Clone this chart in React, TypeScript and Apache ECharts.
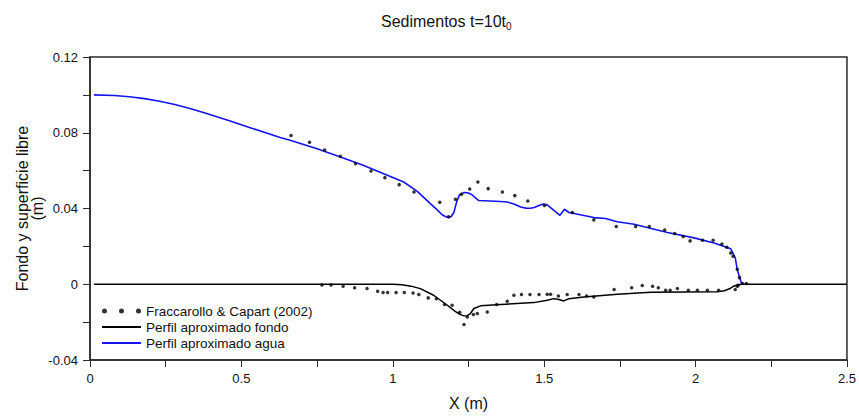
import React, { useEffect, useRef } from "react";
import * as echarts from "echarts";

const aguaX = [0.013, 0.08, 0.13, 0.18, 0.23, 0.28, 0.33, 0.38, 0.463, 0.529, 0.628, 0.661, 0.75, 0.827, 0.9, 0.97, 1.036, 1.08, 1.124, 1.145, 1.163, 1.177, 1.185, 1.193, 1.202, 1.211, 1.22, 1.234, 1.247, 1.26, 1.272, 1.284, 1.356, 1.378, 1.4, 1.422, 1.44, 1.455, 1.467, 1.477, 1.487, 1.497, 1.51, 1.552, 1.567, 1.582, 1.664, 1.703, 1.741, 1.797, 1.907, 1.995, 2.061, 2.116, 2.131, 2.138, 2.152];
const aguaY = [0.1, 0.0997, 0.099, 0.098, 0.0966, 0.0949, 0.0928, 0.0904, 0.0862, 0.0827, 0.0775, 0.076, 0.0715, 0.0672, 0.063, 0.0584, 0.054, 0.0492, 0.0426, 0.0395, 0.0367, 0.0355, 0.0352, 0.0358, 0.038, 0.0435, 0.0472, 0.0484, 0.0483, 0.0474, 0.0458, 0.0442, 0.0437, 0.0434, 0.0424, 0.0408, 0.0402, 0.0401, 0.0405, 0.0412, 0.0419, 0.0424, 0.0419, 0.0364, 0.0396, 0.0379, 0.0352, 0.0347, 0.033, 0.0317, 0.0273, 0.0245, 0.0218, 0.0188, 0.014, 0.0074, 0.0004];

const fondoX = [0.013, 1.0, 1.03, 1.06, 1.091, 1.135, 1.18, 1.205, 1.222, 1.235, 1.246, 1.256, 1.268, 1.29, 1.356, 1.466, 1.51, 1.532, 1.549, 1.565, 1.582, 1.631, 1.742, 1.852, 2.072, 2.095, 2.112, 2.127, 2.15, 2.5];
const fondoY = [0, 0, -0.0003, -0.001, -0.0023, -0.0058, -0.0111, -0.0142, -0.0159, -0.0167, -0.0166, -0.0155, -0.0128, -0.0114, -0.0107, -0.0097, -0.0085, -0.0076, -0.0081, -0.0088, -0.0076, -0.0067, -0.0053, -0.0042, -0.0039, -0.0034, -0.0024, -0.0009, 0, 0];

const expSupX = [0.664, 0.725, 0.775, 0.827, 0.877, 0.928, 0.974, 1.021, 1.07, 1.155, 1.184, 1.207, 1.227, 1.254, 1.281, 1.315, 1.362, 1.403, 1.446, 1.501, 1.593, 1.664, 1.738, 1.802, 1.847, 1.898, 1.931, 1.959, 1.982, 2.023, 2.058, 2.087, 2.103, 2.116, 2.124, 2.138, 2.145, 2.155, 2.168];
const expSupY = [0.0785, 0.075, 0.0709, 0.0676, 0.0637, 0.0598, 0.0563, 0.0526, 0.0487, 0.0433, 0.0356, 0.0449, 0.0475, 0.0503, 0.054, 0.0505, 0.0487, 0.0468, 0.044, 0.0416, 0.0379, 0.034, 0.0305, 0.0305, 0.0305, 0.0287, 0.0268, 0.0252, 0.0229, 0.0232, 0.0232, 0.0213, 0.0195, 0.0165, 0.0148, 0.0079, 0.0035, 0.0004, 0.0004];

const expFonX = [0.766, 0.796, 0.836, 0.874, 0.915, 0.95, 0.968, 0.983, 1.011, 1.038, 1.067, 1.086, 1.117, 1.144, 1.171, 1.196, 1.221, 1.235, 1.246, 1.266, 1.279, 1.312, 1.343, 1.378, 1.4, 1.425, 1.453, 1.483, 1.51, 1.521, 1.547, 1.576, 1.615, 1.64, 1.664, 1.731, 1.789, 1.824, 1.858, 1.877, 1.901, 1.916, 1.94, 1.976, 2.006, 2.039, 2.076, 2.131, 2.138, 2.14];
const expFonY = [-0.0004, -0.0004, -0.0011, -0.0018, -0.0023, -0.0037, -0.0044, -0.0044, -0.0044, -0.0044, -0.0046, -0.0054, -0.0072, -0.0076, -0.0107, -0.0111, -0.0148, -0.0213, -0.0173, -0.016, -0.0155, -0.0146, -0.0107, -0.009, -0.0058, -0.0054, -0.0054, -0.0054, -0.0053, -0.0053, -0.0062, -0.0054, -0.0054, -0.0062, -0.0067, -0.0028, -0.0018, -0.0007, -0.0011, -0.0018, -0.0032, -0.0032, -0.0023, -0.0032, -0.0032, -0.0032, -0.0032, -0.0028, -0.0011, -0.0005];

const xTicks = { min: 0, max: 2.5, interval: 0.5 };
const yTicks = { min: -0.04, max: 0.12, interval: 0.04 };

const zip = (xs: number[], ys: number[]) => xs.map((x, i) => [x, ys[i]]);

const FONT = "'Liberation Sans', Arial, sans-serif";
const AXIS_COLOR = "#2a2a2a";
const BLUE = "#1414f0";
const dotsIcon =
  "path://M0,2.5a2.5,2.5 0 1,0 5,0a2.5,2.5 0 1,0 -5,0M17,2.5a2.5,2.5 0 1,0 5,0a2.5,2.5 0 1,0 -5,0M34,2.5a2.5,2.5 0 1,0 5,0a2.5,2.5 0 1,0 -5,0Z";

export default function App() {
  const ref = useRef<HTMLDivElement>(null);
  useEffect(() => {
    if (!ref.current) return;
    const chart = echarts.init(ref.current, undefined, { renderer: "svg" });
    const axisCommon = {
      axisLine: { show: true, onZero: false, lineStyle: { color: AXIS_COLOR, width: 1.5 } },
      axisTick: { show: true, inside: false, length: 7, lineStyle: { color: AXIS_COLOR, width: 1 } },
      minorTick: { show: true, splitNumber: 2, length: 7, lineStyle: { color: AXIS_COLOR, width: 1 } },
      splitLine: { show: false },
    };
    chart.setOption({
      animation: false,
      backgroundColor: "#ffffff",
      textStyle: { fontFamily: FONT },
      title: {
        text: "{a|Sedimentos t=10t}{b|0}",
        left: 376,
        top: 6,
        textStyle: {
          fontWeight: "normal",
          rich: {
            a: { fontSize: 16, fontFamily: FONT, fontWeight: "normal", color: "#111", lineHeight: 20 },
            b: { fontSize: 10, fontFamily: FONT, fontWeight: "normal", color: "#111", lineHeight: 10, verticalAlign: "bottom" },
          },
        },
      },
      grid: {
        left: 90,
        right: 12,
        top: 57,
        bottom: 56,
        show: true,
        borderColor: AXIS_COLOR,
        borderWidth: 1.5,
        backgroundColor: "transparent",
      },
      legend: {
        orient: "vertical",
        left: 101,
        top: 304,
        padding: 0,
        itemGap: 2,
        itemWidth: 39,
        itemHeight: 5,
        textStyle: { fontSize: 13.5, fontFamily: FONT, color: "#111" },
        data: [
          { name: "Fraccarollo & Capart (2002)", icon: dotsIcon },
          { name: "Perfil aproximado fondo", itemStyle: { opacity: 0 } },
          { name: "Perfil aproximado agua", itemStyle: { opacity: 0 } },
        ],
      },
      xAxis: {
        type: "value",
        ...xTicks,
        ...axisCommon,
        name: "X (m)",
        nameLocation: "middle",
        nameGap: 35,
        nameMoveOverlap: false,
        nameTextStyle: { fontSize: 16, fontFamily: FONT, color: "#111" },
        axisLabel: { fontSize: 13, fontFamily: FONT, color: "#111", margin: 12 },
      },
      yAxis: {
        type: "value",
        ...yTicks,
        ...axisCommon,
        name: "Fondo y superficie libre\n(m)",
        nameLocation: "middle",
        nameRotate: 90,
        nameGap: 45,
        nameMoveOverlap: false,
        nameTextStyle: { fontSize: 16, fontFamily: FONT, color: "#111", lineHeight: 15 },
        axisLabel: {
          fontSize: 13,
          fontFamily: FONT,
          color: "#111",
          margin: 12,
          formatter: (v: number) => (Math.abs(v) < 1e-9 ? "0" : v.toFixed(2)),
        },
      },
      series: [
        {
          name: "Fraccarollo & Capart (2002)",
          type: "scatter",
          symbol: "circle",
          symbolSize: 3.5,
          itemStyle: { color: "#000" },
          data: [...zip(expSupX, expSupY), ...zip(expFonX, expFonY)],
          z: 5,
        },
        {
          name: "Perfil aproximado fondo",
          type: "line",
          symbol: "none",
          showSymbol: false,
          lineStyle: { color: "#000", width: 1.5 },
          itemStyle: { color: "#000" },
          data: zip(fondoX, fondoY),
        },
        {
          name: "Perfil aproximado agua",
          type: "line",
          symbol: "none",
          showSymbol: false,
          lineStyle: { color: BLUE, width: 1.6 },
          itemStyle: { color: BLUE },
          data: zip(aguaX, aguaY),
        },
      ],
    });
    return () => chart.dispose();
  }, []);
  return (
    <div
      ref={ref}
      style={{ position: "fixed", left: 0, top: 0, width: 859, height: 416 }}
    />
  );
}
